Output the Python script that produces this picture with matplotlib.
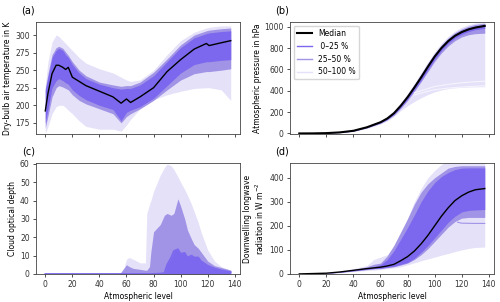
import matplotlib
matplotlib.use("Agg")
import matplotlib.pyplot as plt
from matplotlib.lines import Line2D

# colours for the percentile groups
c_dark = '#7b68ee'
c_mid = '#a193e6'
c_light = '#e4e1f9'

# --- (a) dry-bulb temperature ---
lev_a = [0, 2, 5, 8, 10, 13, 15, 17, 20, 25, 30, 40, 50, 56, 60, 63, 70, 80, 90, 100, 110, 119, 121, 130, 137]
med_a = [192, 217, 245, 257, 257, 254, 251, 254, 240, 234, 228, 220, 212, 203, 209, 204, 212, 225, 248, 265, 280, 288, 285, 289, 292]
dark_hi_a = [222, 240, 268, 278, 281, 278, 272, 268, 258, 246, 238, 230, 225, 223, 224, 224, 229, 242, 262, 282, 296, 302, 303, 305, 306]
dark_lo_a = [175, 195, 225, 235, 238, 235, 232, 230, 222, 214, 208, 200, 194, 178, 190, 193, 198, 210, 228, 246, 258, 262, 262, 264, 265]
mid_hi_a = [224, 245, 272, 282, 284, 281, 276, 271, 262, 250, 242, 233, 229, 227, 228, 228, 233, 247, 266, 286, 300, 306, 307, 309, 310]
mid_lo_a = [168, 185, 212, 225, 228, 226, 224, 222, 215, 207, 202, 195, 188, 175, 184, 188, 195, 207, 222, 236, 245, 248, 248, 250, 252]
light_hi_a = [228, 262, 290, 300, 298, 292, 288, 284, 278, 268, 260, 252, 246, 240, 236, 234, 236, 250, 272, 292, 304, 310, 311, 313, 313]
light_lo_a = [160, 170, 188, 198, 200, 200, 197, 193, 188, 178, 170, 166, 166, 163, 172, 180, 195, 208, 215, 220, 224, 225, 225, 222, 207]

# --- (b) pressure ---
lev_b = [0, 10, 20, 30, 40, 50, 60, 65, 70, 75, 80, 85, 90, 95, 100, 105, 110, 115, 120, 125, 130, 137]
med_b = [0, 0.5, 3, 10, 25, 58, 105, 140, 190, 260, 340, 430, 525, 625, 720, 800, 865, 915, 950, 975, 992, 1008]
dark_hi_b = [0, 0.6, 3.2, 11, 27, 61, 110, 147, 200, 272, 355, 448, 545, 645, 738, 818, 882, 930, 965, 990, 1005, 1018]
dark_lo_b = [0, 0.4, 2.8, 9, 23, 55, 100, 133, 180, 246, 322, 410, 500, 598, 695, 778, 845, 895, 930, 955, 972, 985]
mid_hi_b = [0, 0.7, 3.5, 12, 29, 64, 115, 152, 207, 280, 363, 458, 556, 658, 750, 830, 895, 945, 980, 1005, 1022, 1032]
mid_lo_b = [0, 0.3, 2.5, 8, 21, 52, 95, 127, 172, 236, 310, 395, 485, 580, 675, 755, 820, 870, 905, 925, 935, 940]
light_hi_b = [0, 1, 4, 13, 31, 68, 120, 160, 215, 290, 375, 470, 570, 670, 765, 845, 910, 960, 995, 1020, 1035, 1042]
light_lo_b = [0, 0.2, 2, 7, 19, 47, 88, 118, 160, 215, 260, 300, 335, 365, 390, 408, 420, 428, 432, 435, 437, 438]
lev_bw = [85, 95, 100, 110, 120, 130, 137]
odd1_b = [380, 420, 440, 460, 475, 485, 490]
odd2_b = [360, 395, 410, 425, 435, 442, 446]

# --- (c) cloud optical depth ---
lev_c = [0, 55, 58, 60, 62, 65, 70, 74, 75, 77, 78, 80, 85, 88, 90, 93, 95, 98, 100, 103, 105, 108, 110, 113, 115, 120, 125, 130, 135, 137]
light_hi_c = [0, 0, 3, 8, 9, 8, 6, 6, 33, 38, 40, 45, 54, 58, 60, 59, 57, 53, 50, 46, 43, 38, 34, 28, 23, 13, 7, 4, 2.5, 2]
mid_hi_c = [0, 0, 3, 5, 4, 3, 2.5, 2, 2, 4, 12, 23, 27, 32, 33, 32, 33, 41, 37, 30, 24, 19, 16, 14, 12, 7, 4.5, 3.5, 2.5, 2]
dark_hi_c = [0, 0, 0, 0, 0, 0, 0, 0, 0, 0, 0, 0, 0.2, 0.5, 5, 9, 12.5, 13.5, 11, 11.5, 9, 10, 9, 9, 7, 4.5, 3, 2, 1.3, 1]

# --- (d) downwelling longwave ---
lev_d = [0, 20, 30, 40, 50, 55, 60, 65, 70, 75, 80, 85, 90, 95, 100, 105, 110, 115, 120, 125, 130, 137]
med_d = [0, 3, 8, 15, 22, 25, 28, 33, 40, 55, 72, 95, 125, 160, 200, 240, 275, 305, 325, 340, 350, 355]
dark_hi_d = [0, 3.5, 9, 17, 25, 30, 38, 60, 97, 145, 193, 245, 300, 345, 380, 405, 422, 434, 440, 441, 441, 441]
dark_lo_d = [0, 2.5, 7, 13, 19, 22, 24, 28, 32, 40, 48, 65, 90, 118, 150, 182, 215, 240, 258, 264, 266, 268]
mid_hi_d = [0, 4, 10, 19, 30, 40, 45, 75, 120, 175, 230, 290, 340, 375, 400, 420, 440, 447, 450, 450, 450, 450]
mid_lo_d = [0, 2.3, 6.5, 12, 18, 21, 22, 26, 30, 37, 45, 60, 80, 105, 135, 165, 195, 218, 232, 235, 235, 235]
light_hi_d = [0, 5, 12, 22, 35, 60, 70, 80, 115, 160, 230, 300, 355, 400, 430, 455, 470, 470, 470, 470, 470, 470]
light_lo_d = [0, 2, 5, 10, 14, 16, 18, 22, 25, 30, 38, 46, 55, 62, 70, 78, 85, 93, 100, 106, 110, 112]
lev_do = [117, 120, 130, 137]
odd_d = [215, 211, 210, 210]

plt.rcParams['font.size'] = 5.5
plt.rcParams['axes.linewidth'] = 0.6
plt.rcParams['axes.edgecolor'] = '#444444'
plt.rcParams['xtick.major.width'] = 0.6
plt.rcParams['ytick.major.width'] = 0.6
plt.rcParams['xtick.major.size'] = 2.5
plt.rcParams['ytick.major.size'] = 2.5
plt.rcParams['xtick.major.pad'] = 2
plt.rcParams['ytick.major.pad'] = 2
plt.rcParams['axes.labelpad'] = 2
plt.rcParams['xtick.color'] = '#333333'
plt.rcParams['ytick.color'] = '#333333'

fig = plt.figure(figsize=(5, 3.02), dpi=100)
ax_a = fig.add_axes([0.072, 0.556, 0.408, 0.371])
ax_b = fig.add_axes([0.58, 0.556, 0.408, 0.371])
ax_c = fig.add_axes([0.072, 0.093, 0.408, 0.367])
ax_d = fig.add_axes([0.58, 0.093, 0.408, 0.367])


def bands(ax, lev, lo3, hi3, lo2, hi2, lo1, hi1):
    ax.fill_between(lev, lo3, hi3, color=c_light, lw=0)
    ax.fill_between(lev, lo2, hi2, color=c_mid, lw=0)
    ax.fill_between(lev, lo1, hi1, color=c_dark, lw=0)


# (a)
bands(ax_a, lev_a, light_lo_a, light_hi_a, mid_lo_a, mid_hi_a, dark_lo_a, dark_hi_a)
ax_a.plot(lev_a, med_a, color='black', lw=1.0)
ax_a.set_ylim(159, 318.5)
ax_a.set_yticks([175, 200, 225, 250, 275, 300])
ax_a.set_ylabel('Dry-bulb air temperature in K')

# (b)
bands(ax_b, lev_b, light_lo_b, light_hi_b, mid_lo_b, mid_hi_b, dark_lo_b, dark_hi_b)
ax_b.plot(lev_bw, odd1_b, color='#f6f5fd', lw=0.8)
ax_b.plot(lev_bw, odd2_b, color='#f6f5fd', lw=0.8)
ax_b.plot(lev_b, med_b, color='black', lw=1.5)
ax_b.set_ylim(-6, 1044)
ax_b.set_yticks([0, 200, 400, 600, 800, 1000])
ax_b.set_ylabel('Atmospheric pressure in hPa')
handles = [Line2D([], [], color='black', lw=1.5),
           Line2D([], [], color=c_dark, lw=1),
           Line2D([], [], color=c_mid, lw=1),
           Line2D([], [], color=c_light, lw=1)]
ax_b.legend(handles, ['Median', ' 0–25 %', '25–50 %', '50–100 %'],
            loc='upper left', fontsize=5.5, edgecolor='#cccccc')

# (c)
ax_c.fill_between(lev_c, 0, light_hi_c, color=c_light, lw=0)
ax_c.fill_between(lev_c, 0, mid_hi_c, color=c_mid, lw=0)
ax_c.fill_between(lev_c, 0, dark_hi_c, color=c_dark, lw=0)
ax_c.plot(lev_c, dark_hi_c, color=c_dark, lw=1.2, zorder=4)
ax_c.set_ylim(0, 60.5)
ax_c.set_yticks([0, 10, 20, 30, 40, 50, 60])
ax_c.set_ylabel('Cloud optical depth')

# (d)
bands(ax_d, lev_d, light_lo_d, light_hi_d, mid_lo_d, mid_hi_d, dark_lo_d, dark_hi_d)
ax_d.plot(lev_do, odd_d, color=c_mid, lw=0.8)
ax_d.plot(lev_d, med_d, color='black', lw=1.0)
ax_d.set_ylim(0, 461)
ax_d.set_yticks([0, 100, 200, 300, 400])
ax_d.set_ylabel('Downwelling longwave\nradiation in W m$^{-2}$')

for ax, tag in zip([ax_a, ax_b, ax_c, ax_d], ['(a)', '(b)', '(c)', '(d)']):
    ax.set_xlim(-6.85, 143.85)
    ax.set_xticks(range(0, 141, 20))
    ax.text(-0.005, 1.06, tag, transform=ax.transAxes, fontsize=7, ha='right', va='bottom')
ax_a.set_xticklabels([])
ax_b.set_xticklabels([])
ax_c.set_xlabel('Atmospheric level')
ax_d.set_xlabel('Atmospheric level')

fig.savefig('out.png', dpi=100)
